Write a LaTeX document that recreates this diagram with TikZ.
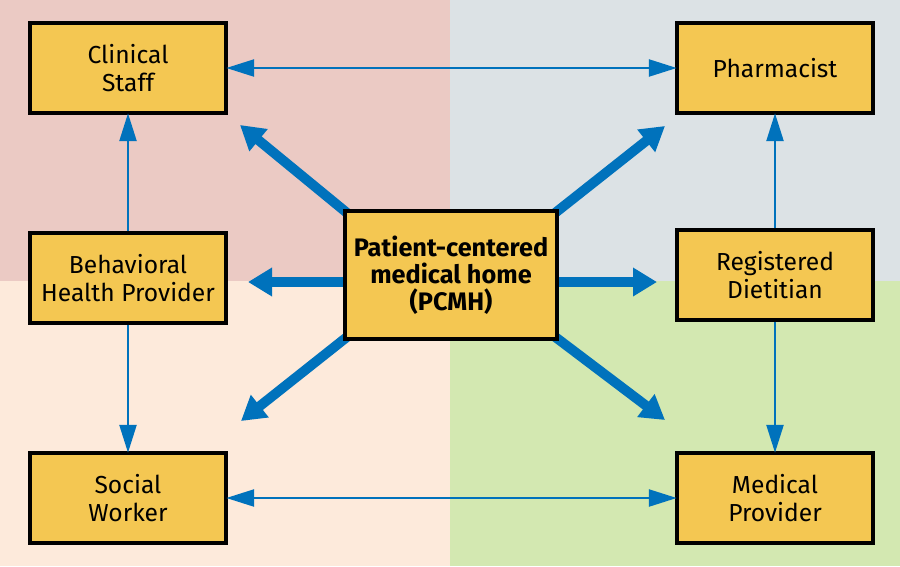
\documentclass[tikz,border=0pt]{standalone}
\usepackage{fontspec}
\setmainfont{Fira Sans}
\usetikzlibrary{arrows.meta,positioning}
\definecolor{quadpink}{HTML}{EBCAC4}
\definecolor{quadgray}{HTML}{DCE2E5}
\definecolor{quadpeach}{HTML}{FDEADB}
\definecolor{quadgreen}{HTML}{D3E8B1}
\definecolor{boxyellow}{HTML}{F4C752}
\definecolor{linkblue}{HTML}{0072BC}
\tikzset{
  rolebox/.style={draw=black,line width=2.2pt,fill=boxyellow,minimum width=4.9cm,
    minimum height=2.25cm,align=center,inner sep=2pt,
    font=\fontsize{17.5}{20}\selectfont},
  homebox/.style={rolebox,minimum width=5.3cm,minimum height=3.2cm,
    font=\fontsize{18}{19.3}\selectfont\bfseries},
  thinlink/.style={draw=linkblue,line width=2.1pt,
    -{Triangle[length=0.7cm,width=0.42cm]},shorten >=-1pt},
  twolink/.style={thinlink,{Triangle[length=0.7cm,width=0.42cm]}-{Triangle[length=0.7cm,width=0.42cm]},shorten <=-1pt},
  thicklink/.style={draw=linkblue,line width=7pt,
    -{Triangle[length=0.6cm,width=0.68cm]}}
}
\begin{document}
\begin{tikzpicture}[x=0.025cm,y=-0.025cm]
            \useasboundingbox (0,0) rectangle (900,566);
            % four quadrants
            \fill[quadpink] (0,0) rectangle (450,281);
            \fill[quadgray] (450,0) rectangle (900,281);
            \fill[quadpeach] (0,281) rectangle (450,566);
            \fill[quadgreen] (450,281) rectangle (900,566);
            % the team
            \node[rolebox] (clinical) at (128,68) {Clinical\\Staff};
            \node[rolebox] (pharm) at (775,68) {Pharmacist};
            \node[rolebox] (behav) at (128,278) {Behavioral\\Health Provider};
            \node[rolebox] (dietit) at (775,275) {Registered\\Dietitian};
            \node[rolebox] (social) at (128,498) {Social\\Worker};
            \node[rolebox] (medic) at (775,498) {Medical\\Provider};
            % tips of the thick arrows
            \coordinate (ulTip) at (240,125);
            \coordinate (lTip) at (248,282);
            \coordinate (llTip) at (241,421);
            \coordinate (urTip) at (665,126);
            \coordinate (rTip) at (657,282);
            \coordinate (lrTip) at (665,420);
            % thick arrows out of the home
            \draw[thicklink] (352,217) -- (ulTip);
            \draw[thicklink] (350,282) -- (lTip);
            \draw[thicklink] (352,333) -- (llTip);
            \draw[thicklink] (550,217) -- (urTip);
            \draw[thicklink] (552,282) -- (rTip);
            \draw[thicklink] (550,333) -- (lrTip);
            \node[homebox] (pcmh) at (451,275) {Patient-centered\\medical home\\(PCMH)};
            % thin links between roles
            \draw[twolink] (clinical) -- (pharm);
            \draw[twolink] (social) -- (medic);
            \draw[thinlink] (behav) -- (clinical);
            \draw[thinlink] (behav) -- (social);
            \draw[thinlink] (dietit) -- (pharm);
            \draw[thinlink] (dietit) -- (medic);
\end{tikzpicture}
\end{document}
